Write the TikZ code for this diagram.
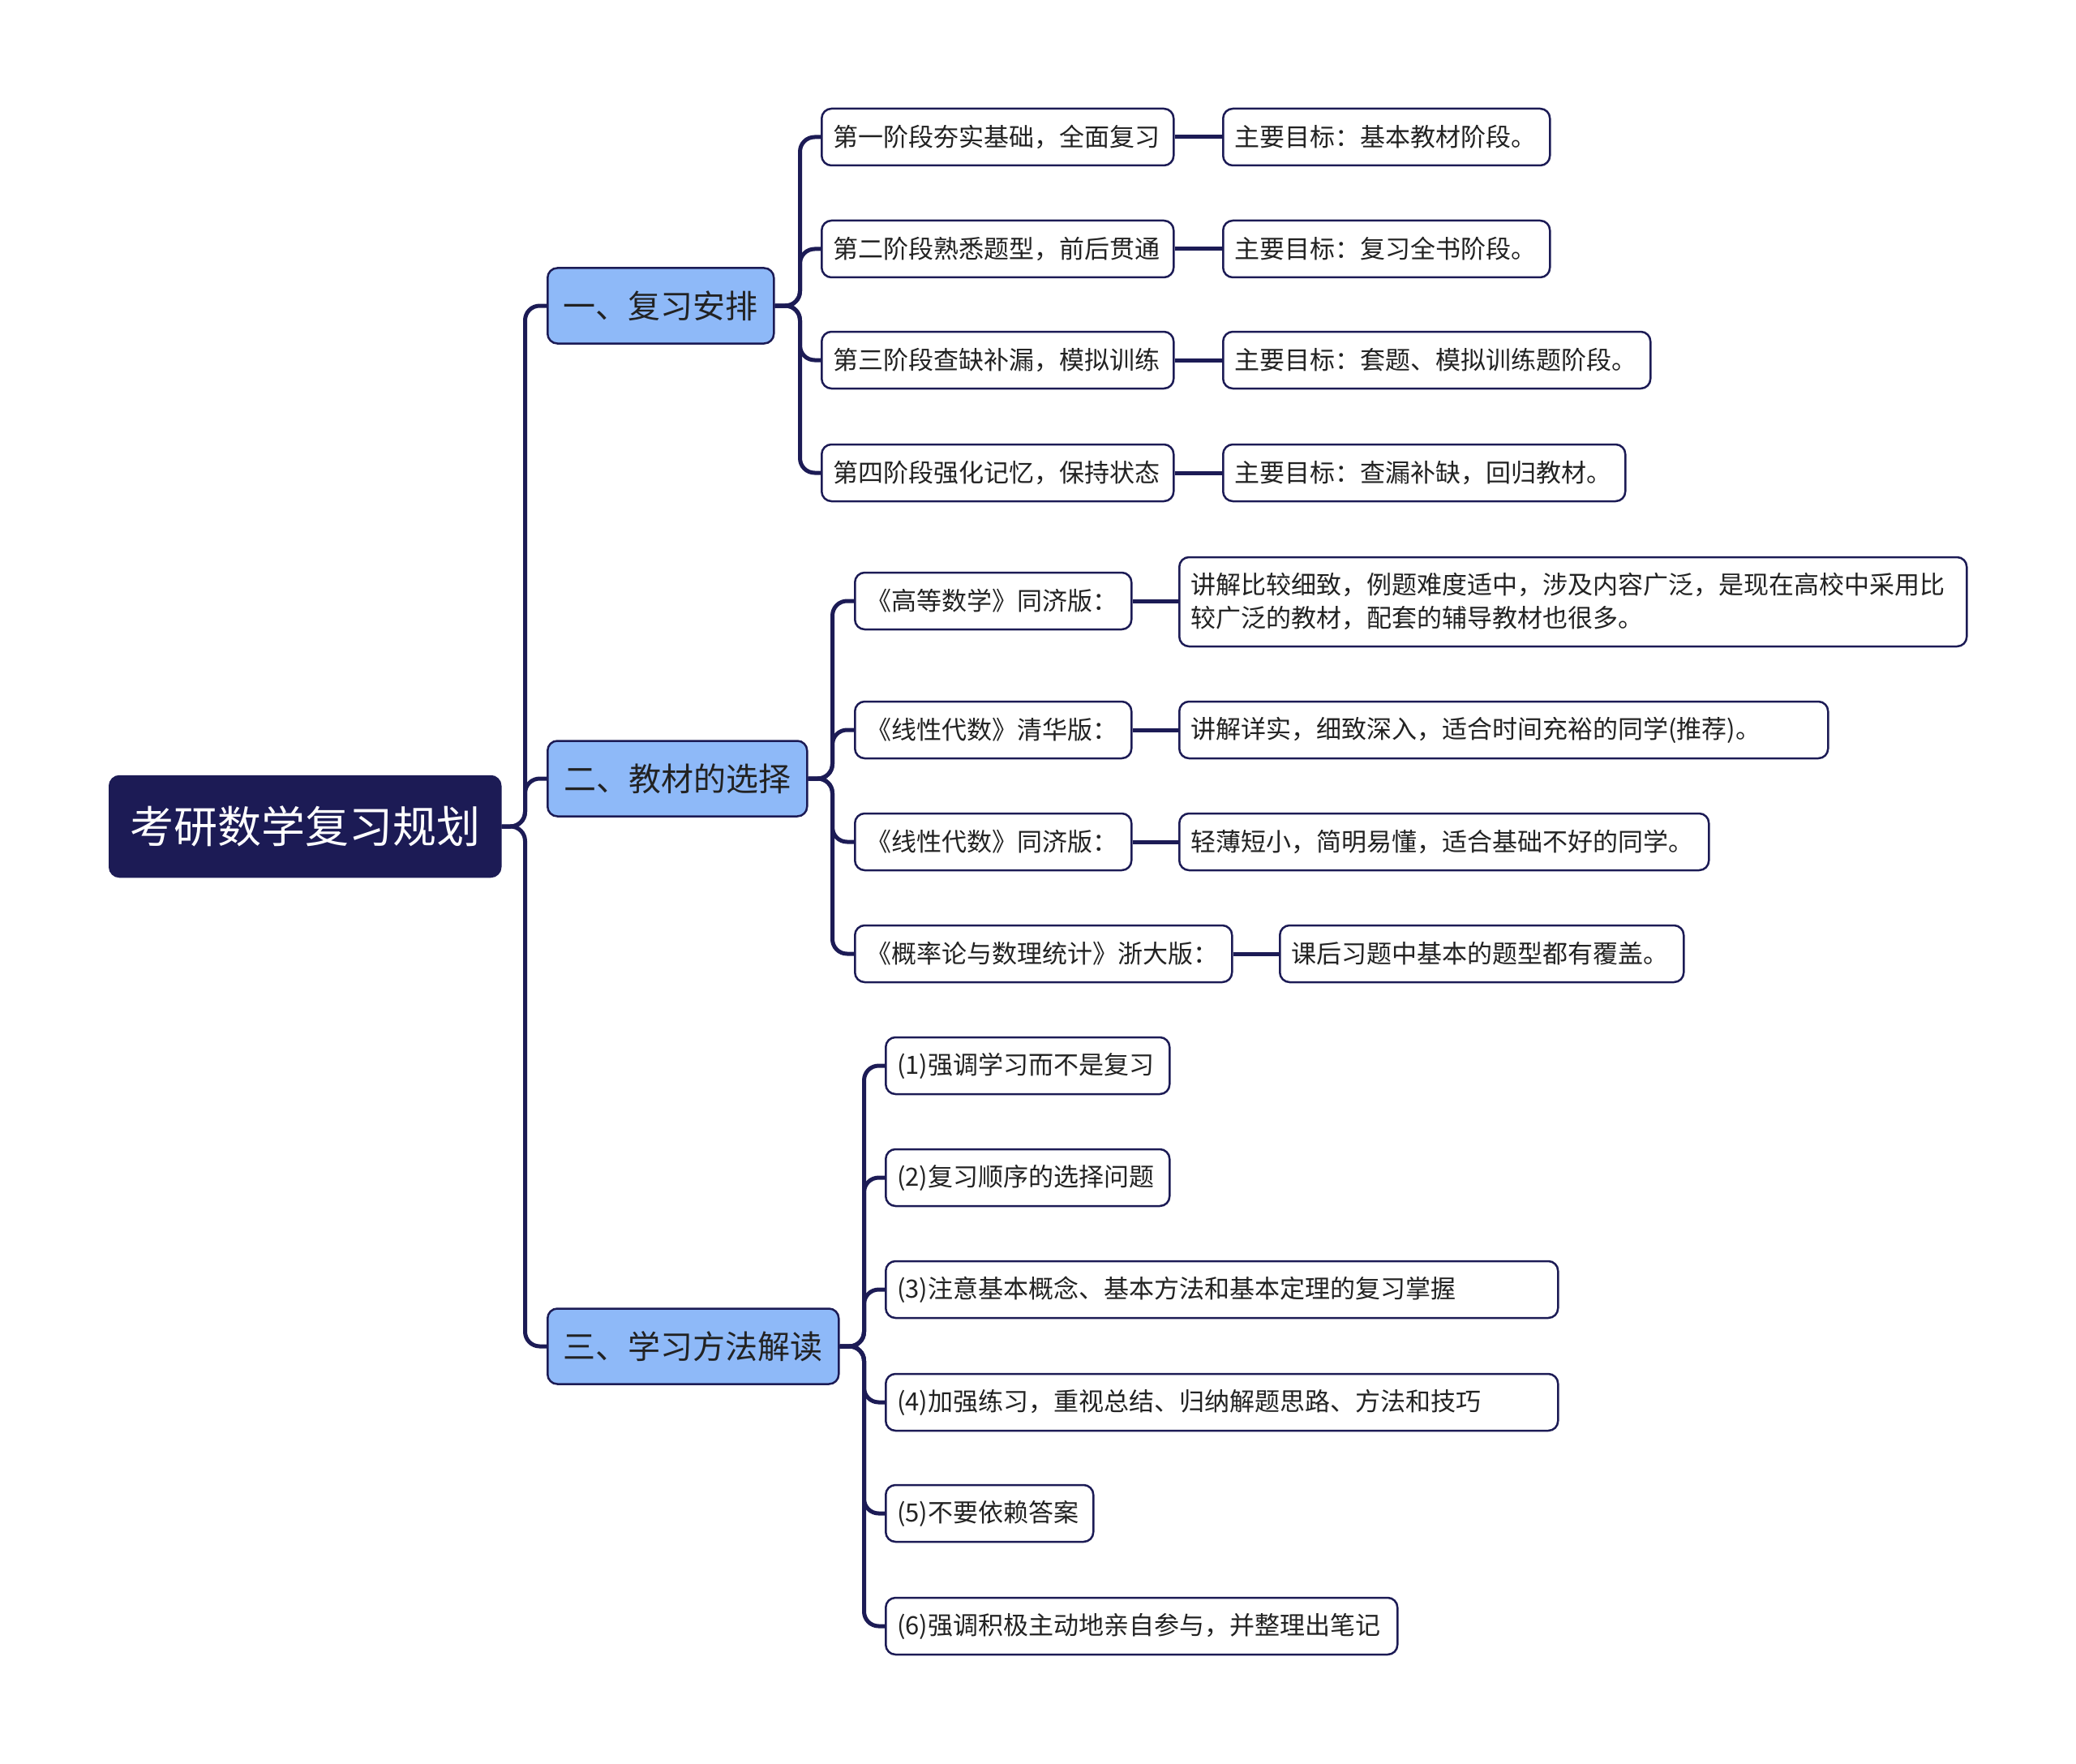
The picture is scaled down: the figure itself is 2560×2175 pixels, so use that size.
\documentclass[tikz,border=0pt]{standalone}
\usepackage{fontspec}
\setmainfont{Noto Sans CJK SC}
\definecolor{navy}{HTML}{1C1B55}
\definecolor{lblue}{HTML}{8EB9F8}
\definecolor{txt}{HTML}{222222}
\tikzset{
  conn/.style={draw=navy, line width=5pt, rounded corners=18pt},
  rootbox/.style={draw=navy, fill=navy, text=white, line width=2.5pt, rounded corners=12pt,
    anchor=west, minimum height=124pt, inner xsep=0pt, align=center,
    font=\fontsize{54}{60}\selectfont},
  lonebox/.style={draw=navy, fill=lblue, text=txt, line width=2.5pt, rounded corners=12pt,
    anchor=west, minimum height=93pt, inner xsep=0pt, align=center,
    font=\fontsize{40}{46}\selectfont},
  ltwobox/.style={draw=navy, fill=white, text=txt, line width=2.5pt, rounded corners=12pt,
    anchor=west, minimum height=70pt, inner xsep=14pt, inner ysep=10pt, align=left,
    font=\fontsize{31}{41}\selectfont},
}
\begin{document}
\begin{tikzpicture}[x=1pt,y=-1pt]
\useasboundingbox (0,0) rectangle (2560,2175);
% root
\node[rootbox, minimum width=482pt] (R) at (134,1019) {考研数学复习规划};
% level 1
\node[lonebox, minimum width=279pt] (A) at (674,377) {一、复习安排};
\node[lonebox, minimum width=320pt] (B) at (674,960) {二、教材的选择};
\node[lonebox, minimum width=359pt] (C) at (674,1660) {三、学习方法解读};
% level 2 under A
\node[ltwobox, text width=406pt] (A1) at (1012,169) {第一阶段夯实基础，全面复习};
\node[ltwobox, text width=406pt] (A2) at (1012,307) {第二阶段熟悉题型，前后贯通};
\node[ltwobox, text width=406pt] (A3) at (1012,444) {第三阶段查缺补漏，模拟训练};
\node[ltwobox, text width=406pt] (A4) at (1012,583) {第四阶段强化记忆，保持状态};
\node[ltwobox, text width=375pt] (A1r) at (1507,169) {主要目标：基本教材阶段。};
\node[ltwobox, text width=499pt] (A3r) at (1507,444) {主要目标：套题、模拟训练题阶段。};
\node[ltwobox, text width=375pt] (A2r) at (1507,307) {主要目标：复习全书阶段。};
\node[ltwobox, text width=468pt] (A4r) at (1507,583) {主要目标：查漏补缺，回归教材。};
% level 2 under B
\node[ltwobox, text width=313pt] (B1) at (1053,741) {《高等数学》同济版：};
\node[ltwobox, text width=313pt] (B2) at (1053,900) {《线性代数》清华版：};
\node[ltwobox, text width=313pt] (B3) at (1053,1038) {《线性代数》同济版：};
\node[ltwobox, text width=437pt] (B4) at (1053,1176) {《概率论与数理统计》浙大版：};
\node[ltwobox, text width=943pt, minimum height=110pt] (B1r) at (1453,742) {讲解比较细致，例题难度适中，涉及内容广泛，是现在高校中采用比\\较广泛的教材，配套的辅导教材也很多。};
\node[ltwobox, text width=772pt] (B2r) at (1453,900) {讲解详实，细致深入，适合时间充裕的同学(推荐)。};
\node[ltwobox, text width=625pt] (B3r) at (1453,1038) {轻薄短小，简明易懂，适合基础不好的同学。};
\node[ltwobox, text width=470pt] (B4r) at (1577,1176) {课后习题中基本的题型都有覆盖。};
% level 2 under C
\node[ltwobox, text width=322pt] (C1) at (1091,1314) {(1)强调学习而不是复习};
\node[ltwobox, text width=322pt] (C2) at (1091,1452) {(2)复习顺序的选择问题};
\node[ltwobox, text width=801pt] (C3) at (1091,1590) {(3)注意基本概念、基本方法和基本定理的复习掌握};
\node[ltwobox, text width=801pt] (C4) at (1091,1729) {(4)加强练习，重视总结、归纳解题思路、方法和技巧};
\node[ltwobox, text width=228pt] (C5) at (1091,1866) {(5)不要依赖答案};
\node[ltwobox, text width=603pt] (C6) at (1091,2005) {(6)强调积极主动地亲自参与，并整理出笔记};
% connectors
\foreach \n in {A,B,C} \draw[conn] (R.east) -- ++(29,0) |- (\n.west);
\foreach \n in {A1,A2,A3,A4} \draw[conn] (A.east) -- ++(31,0) |- (\n.west);
\foreach \n in {B1,B2,B3,B4} \draw[conn] (B.east) -- ++(30,0) |- (\n.west);
\foreach \n in {C1,C2,C3,C4,C5,C6} \draw[conn] (C.east) -- ++(30,0) |- (\n.west);
\foreach \n in {A1,A2,A3,A4,B2,B3,B4} \draw[conn] (\n.east) -- (\n r.west);
\draw[conn] (B1.east) -- (B1.east -| B1r.west);
\end{tikzpicture}
\end{document}
